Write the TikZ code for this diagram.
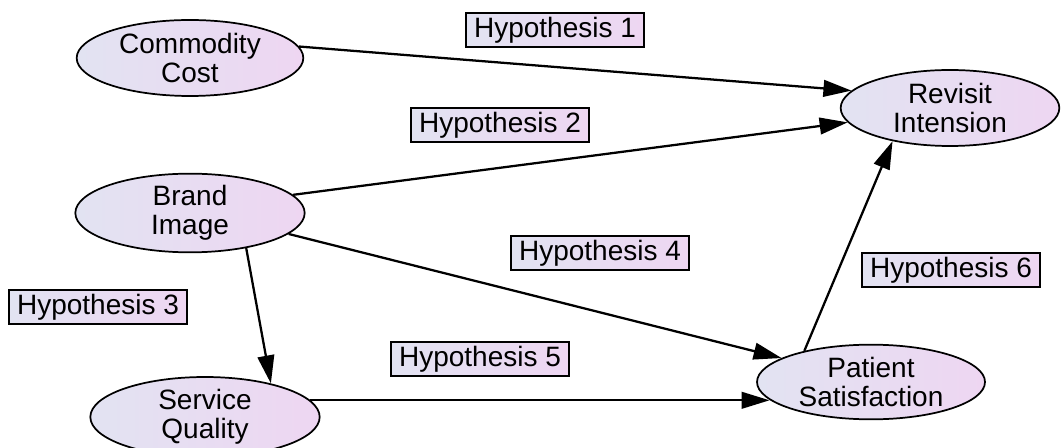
\documentclass[tikz,border=0pt]{standalone}
\usepackage{fontspec}
\setmainfont{Liberation Sans}
\usetikzlibrary{shapes.geometric,arrows.meta}
\definecolor{fillL}{RGB}{226,227,242}
\definecolor{fillR}{RGB}{238,214,242}
\tikzset{
  construct/.style={ellipse, draw=black, line width=1.3pt, left color=fillL, right color=fillR,
    inner sep=0pt, align=center, font=\fontsize{21}{21.5}\selectfont,
    minimum width=170pt, minimum height=57pt},
  hyp/.style={rectangle, draw=black, line width=1.5pt, left color=fillL, right color=fillR,
    inner sep=0pt, minimum width=133pt, minimum height=25pt, font=\fontsize{21}{22}\selectfont},
  link/.style={line width=1.7pt, -{Triangle[length=21pt,width=12.5pt]}}
}
\begin{document}
\begin{tikzpicture}[x=0.75pt,y=-0.75pt]
\useasboundingbox (0,0) rectangle (1062,448);
\node[construct] (cc) at (190,58) {Commodity\\Cost};
\node[construct, minimum width=164pt, minimum height=57pt] (ri) at (950,108) {Revisit\\Intension};
\node[construct, minimum width=172pt, minimum height=59pt] (bi) at (190,213) {Brand\\Image};
\node[construct, minimum width=172pt, minimum height=60pt] (sq) at (205,417) {Service\\Quality};
\node[construct, minimum width=171pt, minimum height=56pt] (ps) at (871,382) {Patient\\Satisfaction};
\node[hyp] (h1) at (555,30) {Hypothesis 1};
\node[hyp] (h2) at (500,125) {Hypothesis 2};
\node[hyp] (h3) at (98,307) {Hypothesis 3};
\node[hyp] (h4) at (600,253) {Hypothesis 4};
\node[hyp] (h5) at (480,359) {Hypothesis 5};
\node[hyp] (h6) at (951,270) {Hypothesis 6};
\draw[link] (cc.6) -- (ri.170);
\draw[link] (bi.10) -- (ri.188);
\draw[link] (bi.-12) -- (ps.165);
\draw[link] (bi.-32) -- (sq.27);
\draw[link] (sq.9) -- (sq.9 -| ps.190);
\draw[link] (ps.155) -- (ri.-150);
\end{tikzpicture}
\end{document}
